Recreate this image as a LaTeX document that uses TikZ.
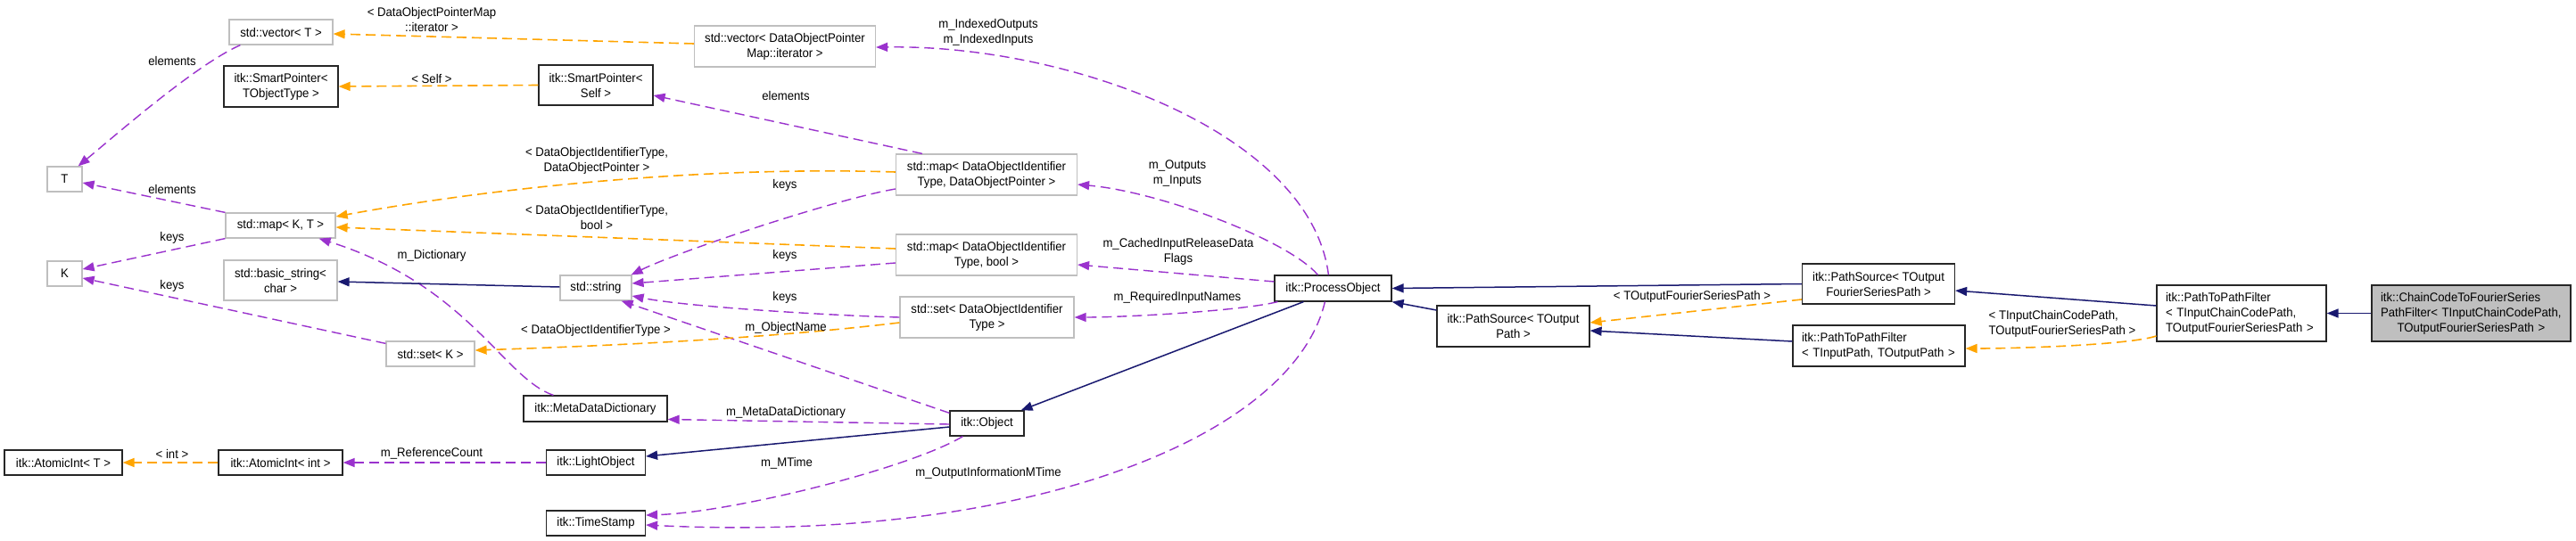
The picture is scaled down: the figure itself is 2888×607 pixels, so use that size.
\documentclass[tikz,border=0pt]{standalone}
\usepackage{fontspec}
\setmainfont{Liberation Sans}[FakeStretch=0.94]
\usetikzlibrary{arrows.meta}
\definecolor{usecol}{HTML}{9A32CD}
\definecolor{tplcol}{HTML}{FFA500}
\definecolor{inhcol}{HTML}{191970}
\definecolor{gborder}{HTML}{BFBFBF}
\begin{document}
\begin{tikzpicture}[x=1pt,y=1pt,
  font=\fontsize{14}{17}\selectfont,
  box/.style={draw, line width=1.2pt, fill=white, inner sep=0pt, align=center},
  gbox/.style={box, draw=gborder},
  bbox/.style={box, draw=black!85},
  lbox/.style={box, draw=black!85, align=left, inner xsep=10pt, inner ysep=0pt},
  lbl/.style={inner sep=0pt, align=center},
  useedge/.style={draw=usecol, line width=1.4pt, dash pattern=on 11pt off 6pt, -{Triangle[length=13pt,width=10pt]}},
  tpledge/.style={draw=tplcol, line width=1.6pt, dash pattern=on 11pt off 6pt, -{Triangle[length=13pt,width=10pt]}},
  inhedge/.style={draw=inhcol, line width=1.5pt, -{Triangle[length=13pt,width=10pt]}}
]
\fill[white] (0,0) rectangle (2888,-607);
\useasboundingbox (0,0) rectangle (2888,-607);

% nodes
\node[gbox, minimum width=116, minimum height=28] (vecT) at (315,-36) {std::vector< T >};
\node[bbox, minimum width=128, minimum height=46] (spTO) at (315,-97) {itk::SmartPointer<\\ TObjectType >};
\node[bbox, minimum width=128, minimum height=45] (spSelf) at (668,-95.5) {itk::SmartPointer<\\ Self >};
\node[gbox, minimum width=39, minimum height=28] (T) at (72.5,-201) {T};
\node[gbox, minimum width=123, minimum height=28] (mapKT) at (314.5,-253) {std::map< K, T >};
\node[gbox, minimum width=39, minimum height=28] (K) at (72.5,-307) {K};
\node[gbox, minimum width=127, minimum height=45] (bstr) at (314.5,-314.5) {std::basic\_string<\\ char >};
\node[gbox, minimum width=80, minimum height=28] (str) at (668,-323) {std::string};
\node[gbox, minimum width=99, minimum height=28] (setK) at (482.5,-397) {std::set< K >};
\node[bbox, minimum width=161, minimum height=29] (mdd) at (667.5,-458.5) {itk::MetaDataDictionary};
\node[bbox, minimum width=132, minimum height=28] (aiT) at (71,-519) {itk::AtomicInt< T >};
\node[bbox, minimum width=139, minimum height=28] (aiInt) at (314.5,-519) {itk::AtomicInt< int >};
\node[bbox, minimum width=111, minimum height=28] (lo) at (668,-519) {itk::LightObject};
\node[bbox, minimum width=111, minimum height=28] (ts) at (668,-587) {itk::TimeStamp};
\node[bbox, minimum width=83, minimum height=28] (obj) at (1106.5,-475) {itk::Object};
\node[gbox, minimum width=203, minimum height=46] (vecDOP) at (880,-52) {std::vector< DataObjectPointer\\ Map::iterator >};
\node[gbox, minimum width=203, minimum height=46] (mapDOP) at (1106,-196) {std::map< DataObjectIdentifier\\ Type, DataObjectPointer >};
\node[gbox, minimum width=203, minimum height=46] (mapBool) at (1106,-286) {std::map< DataObjectIdentifier\\ Type, bool >};
\node[gbox, minimum width=195, minimum height=46] (setDOI) at (1106.5,-356) {std::set< DataObjectIdentifier\\ Type >};
\node[bbox, minimum width=131, minimum height=29] (po) at (1494.5,-323.5) {itk::ProcessObject};
\node[bbox, minimum width=171, minimum height=46] (psPath) at (1696.5,-366) {itk::PathSource< TOutput\\ Path >};
\node[bbox, minimum width=171, minimum height=45] (psFSP) at (2106,-318.5) {itk::PathSource< TOutput\\ FourierSeriesPath >};
\node[lbox, text width=173, minimum height=46] (ptpIO) at (2106.5,-388) {itk::PathToPathFilter\\ < TInputPath, TOutputPath >};
\node[lbox, text width=170, minimum height=63] (ptpCC) at (2513,-351.5) {itk::PathToPathFilter\\ < TInputChainCodePath,\\ TOutputFourierSeriesPath >};
\node[lbox, fill=gborder, text width=203, minimum height=63] (cc) at (2770.5,-351.5) {itk::ChainCodeToFourierSeries\\ PathFilter< TInputChainCodePath,\\ \hfill TOutputFourierSeriesPath >\hfill\null};

% usage edges
\draw[useedge] ([xshift=13]vecT.south west) .. controls +(-50,-22) and +(40,33) .. ([xshift=-5]T.north east);
\draw[useedge] (mapKT.north west) -- ([yshift=-4]T.east);
\draw[useedge] (mapKT.south west) -- ([yshift=5]K.east);
\draw[useedge] ([yshift=-3]setK.north west) -- ([yshift=-5]K.east);
\draw[useedge] ([xshift=34]mdd.north west) .. controls +(-56,19) and +(168,-53) .. ([xshift=-19]mapKT.south east);
\draw[useedge] ([xshift=30]mapDOP.north west) -- ([yshift=-11.5]spSelf.east);
\draw[useedge] ([yshift=-16]mapDOP.west) .. controls +(-70,-12) and +(50,25) .. ([xshift=-1]str.north east);
\draw[useedge] ([yshift=-9]mapBool.west) -- ([yshift=5]str.east);
\draw[useedge] (setDOI.west) .. controls +(-80,2) and +(60,-12) .. ([yshift=-9]str.east);
\draw[useedge] ([yshift=-3]obj.north west) -- ([xshift=-12]str.south east);
\draw[useedge] ([yshift=-1]obj.west) -- ([yshift=-12]mdd.east);
\draw[useedge] (lo.west) -- (aiInt.east);
\draw[useedge] ([xshift=15]obj.south west) .. controls +(-60,-36) and +(97,3) .. ([yshift=9]ts.east);
\draw[useedge] ([xshift=57]po.south west) .. controls +(-36,-152) and +(427,-21) .. ([yshift=-2]ts.east);
\draw[useedge] ([xshift=61]po.north west) .. controls +(-20,159) and +(218,3) .. ([yshift=-1]vecDOP.east);
\draw[useedge] ([xshift=49]po.north west) .. controls +(-33,39) and +(92,-8) .. ([yshift=-11]mapDOP.east);
\draw[useedge] ([yshift=7.5]po.west) -- ([yshift=-11]mapBool.east);
\draw[useedge] ([xshift=4]po.south west) .. controls +(-40,-10) and +(60,0) .. (setDOI.east);

% template edges
\draw[tpledge] ([yshift=3]vecDOP.west) -- ([yshift=-2]vecT.east);
\draw[tpledge] (spSelf.west) -- (spTO.east);
\draw[tpledge] ([yshift=3]mapDOP.west) .. controls +(-255,8) and +(124,23) .. ([yshift=10]mapKT.east);
\draw[tpledge] ([yshift=7]mapBool.west) -- ([yshift=-2]mapKT.east);
\draw[tpledge] ([yshift=-6]setDOI.west) .. controls +(-150,-18) and +(150,5) .. ([yshift=4]setK.east);
\draw[tpledge] (aiInt.west) -- (aiT.east);
\draw[tpledge] ([yshift=-17.5]psFSP.west) -- ([yshift=4]psPath.east);
\draw[tpledge] ([yshift=-25.5]ptpCC.west) .. controls +(-30,-10) and +(60,0) .. ([yshift=-3]ptpIO.east);

% inheritance edges
\draw[inhedge] ([yshift=1]str.west) -- ([yshift=-1.5]bstr.east);
\draw[inhedge] ([yshift=-4]obj.west) -- ([yshift=7]lo.east);
\draw[inhedge] ([xshift=33]po.south west) -- ([xshift=-4]obj.north east);
\draw[inhedge] ([yshift=18]psPath.west) -- (po.south east);
\draw[inhedge] (psFSP.west) -- (po.east);
\draw[inhedge] ([yshift=5]ptpIO.west) -- ([yshift=-5]psPath.east);
\draw[inhedge] ([yshift=8.5]ptpCC.west) -- ([yshift=-7.5]psFSP.east);
\draw[inhedge] (cc.west) -- (ptpCC.east);

% labels
\node[lbl] (l1) at (484,-22) {< DataObjectPointerMap\\ ::iterator >};
\node[lbl] (l2) at (484,-88) {< Self >};
\node[lbl] (l3) at (193,-68) {elements};
\node[lbl] (l4) at (193,-212) {elements};
\node[lbl] (l5) at (193,-267) {keys};
\node[lbl] (l6) at (193,-321) {keys};
\node[lbl] (l7) at (484,-287) {m\_Dictionary};
\node[lbl] (l8) at (669,-180) {< DataObjectIdentifierType,\\ DataObjectPointer >};
\node[lbl] (l9) at (669,-244) {< DataObjectIdentifierType,\\ bool >};
\node[lbl] (l10) at (668,-371) {< DataObjectIdentifierType >};
\node[lbl] (l11) at (881,-107) {elements};
\node[lbl] (l12) at (880,-208) {keys};
\node[lbl] (l13) at (880,-287) {keys};
\node[lbl] (l14) at (880,-334) {keys};
\node[lbl] (l15) at (881,-368) {m\_ObjectName};
\node[lbl] (l16) at (881,-463) {m\_MetaDataDictionary};
\node[lbl] (l17) at (484,-509) {m\_ReferenceCount};
\node[lbl] (l18) at (193,-509) {< int >};
\node[lbl] (l19) at (882,-520) {m\_MTime};
\node[lbl] (l20) at (1108,-531) {m\_OutputInformationMTime};
\node[lbl] (l21) at (1108,-36) {m\_IndexedOutputs\\ m\_IndexedInputs};
\node[lbl] (l22) at (1320,-195) {m\_Outputs\\ m\_Inputs};
\node[lbl] (l23) at (1321,-282) {m\_CachedInputReleaseData\\ Flags};
\node[lbl] (l24) at (1320,-334) {m\_RequiredInputNames};
\node[lbl] (l25) at (1897,-333) {< TOutputFourierSeriesPath >};
\node[lbl, align=left] (l26) at (2312,-363) {< TInputChainCodePath,\\ TOutputFourierSeriesPath >};
\end{tikzpicture}
\end{document}
